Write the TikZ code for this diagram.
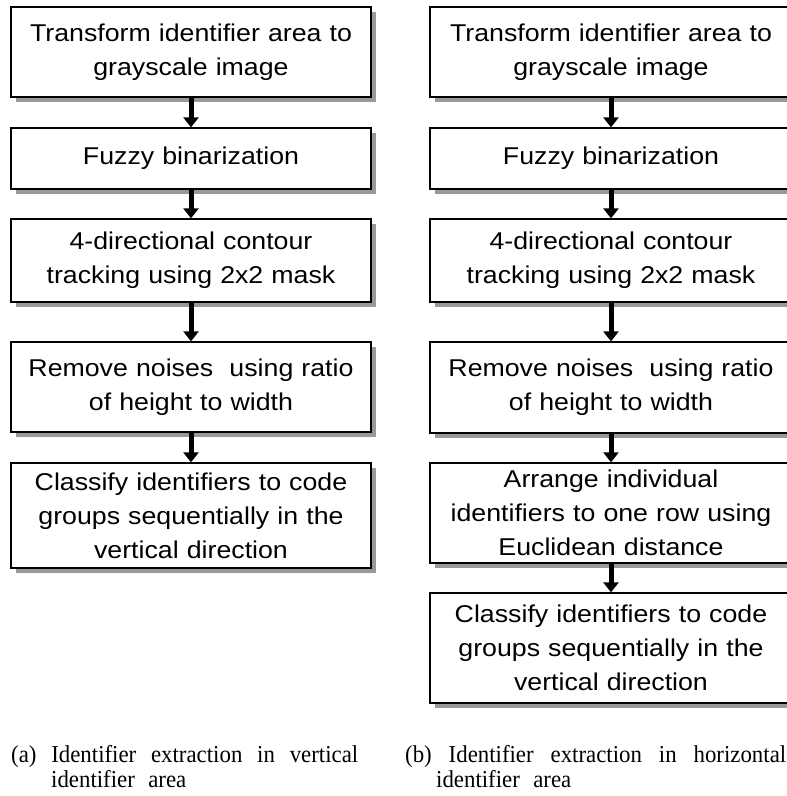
\documentclass[tikz,border=0pt]{standalone}
\usepackage{fontspec}
\setmainfont{Liberation Serif}
\newfontfamily\boxfont[FakeStretch=1.1]{Liberation Sans}
\newfontfamily\capfont[FakeStretch=0.94]{Liberation Serif}
\usetikzlibrary{arrows.meta,shadows}
\begin{document}
\begin{tikzpicture}[x=1pt,y=-1pt,
  stepbox/.style={draw=black, line width=1.3pt, fill=white, rectangle, inner sep=0pt,
    align=center, text width=352pt,
    font=\boxfont\fontsize{24.3}{34}\selectfont,
    drop shadow={shadow xshift=5pt, shadow yshift=-5pt, fill=black!40, opacity=1}},
  flow/.style={line width=5pt, -{Triangle[width=15pt,length=10pt]}},
  captext/.style={anchor=base west, inner sep=0pt, font=\capfont\fontsize{24.3}{26}\selectfont}
]
\useasboundingbox (0,0) rectangle (787,796);

% left column
\node[stepbox, minimum width=360pt, minimum height=90pt]  (l1) at (191,52)    {Transform identifier area to\\grayscale image};
\node[stepbox, minimum width=360pt, minimum height=61pt]  (l2) at (191,158.5) {Fuzzy binarization};
\node[stepbox, minimum width=360pt, minimum height=83pt]  (l3) at (191,260.5) {4-directional contour\\tracking using 2x2 mask};
\node[stepbox, minimum width=360pt, minimum height=90pt]  (l4) at (191,387)   {Remove noises\ \ using ratio\\of height to width};
\node[stepbox, minimum width=360pt, minimum height=105pt] (l5) at (191,515.5) {Classify identifiers to code\\groups sequentially in the\\vertical direction};

% right column (right border falls just outside the picture, as in the reference)
\node[stepbox, minimum width=362pt, minimum height=90pt]  (r1) at (611,52)    {Transform identifier area to\\grayscale image};
\node[stepbox, minimum width=362pt, minimum height=61pt]  (r2) at (611,158.5) {Fuzzy binarization};
\node[stepbox, minimum width=362pt, minimum height=83pt]  (r3) at (611,260.5) {4-directional contour\\tracking using 2x2 mask};
\node[stepbox, minimum width=362pt, minimum height=91pt]  (r4) at (611,387.5) {Remove noises\ \ using ratio\\of height to width};
\node[stepbox, minimum width=362pt, minimum height=100pt] (r5) at (611,513)   {Arrange individual\\identifiers to one row using\\Euclidean distance};
\node[stepbox, minimum width=362pt, minimum height=110pt] (r6) at (611,648)   {Classify identifiers to code\\groups sequentially in the\\vertical direction};

% arrows
\draw[flow] (l1.south) -- (l2.north);
\draw[flow] (l2.south) -- (l3.north);
\draw[flow] (l3.south) -- (l4.north);
\draw[flow] (l4.south) -- (l5.north);
\draw[flow] (r1.south) -- (r2.north);
\draw[flow] (r2.south) -- (r3.north);
\draw[flow] (r3.south) -- (r4.north);
\draw[flow] (r4.south) -- (r5.north);
\draw[flow] (r5.south) -- (r6.north);

% captions
\node[captext] (ca1) at (11,762)  {\makebox[347pt][s]{(a) Identifier extraction in vertical}};
\node[captext] (ca2) at (51,787)  {identifier\hspace{0.55em}area};
\node[captext] (cb1) at (405,762) {\makebox[381pt][s]{(b) Identifier extraction in horizontal}};
\node[captext] (cb2) at (436,787) {identifier\hspace{0.55em}area};
\end{tikzpicture}
\end{document}
